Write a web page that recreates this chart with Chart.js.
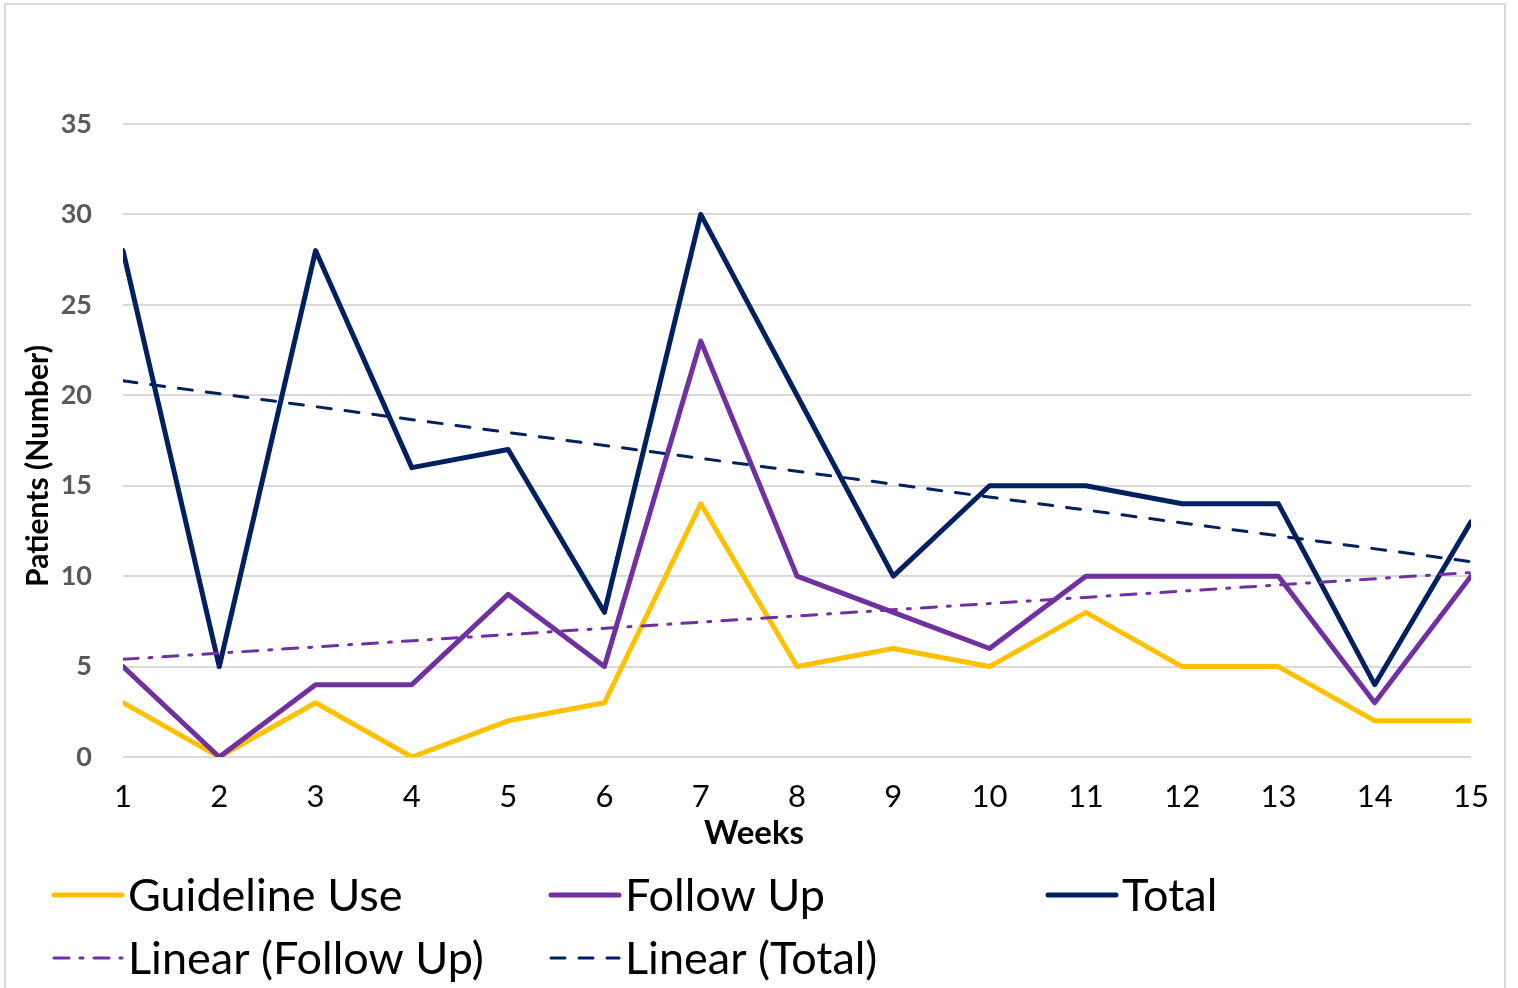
<!DOCTYPE html>
<html lang="en">
<head>
    <meta charset="UTF-8">
    <title>Patients per Week</title>
    <script src="https://cdn.jsdelivr.net/npm/chart.js"></script>
    <style>
        html, body { margin: 0; padding: 0; background: #fff; }
        .chart-box { position: relative; width: 1518px; height: 988px; overflow: hidden; }
        .frame {
            position: absolute; left: 4px; top: 3px; width: 1502px; height: 1000px;
            border: 2px solid #d9d9d9; box-sizing: border-box; pointer-events: none;
        }
        canvas { display: block; }
    </style>
</head>
<body>
    <div class="chart-box">
        <canvas id="chart" width="1518" height="988"></canvas>
        <div class="frame"></div>
    </div>

    <script>
        // weekly counts
        const weeks = [1, 2, 3, 4, 5, 6, 7, 8, 9, 10, 11, 12, 13, 14, 15];
        const guidelineUse = [3, 0, 3, 0, 2, 3, 14, 5, 6, 5, 8, 5, 5, 2, 2];
        const followUp = [5, 0, 4, 4, 9, 5, 23, 10, 8, 6, 10, 10, 10, 3, 10];
        const total = [28, 5, 28, 16, 17, 8, 30, 20, 10, 15, 15, 14, 14, 4, 13];

        // linear trend end points (week 1 and week 15)
        const trendWeeks = [1, 15];
        const followUpTrend = [5.4, 10.2];
        const totalTrend = [20.8, 10.8];

        const yTicks = [0, 5, 10, 15, 20, 25, 30, 35];

        const FONT = 'Lato, "Open Sans", sans-serif';

        const toPoints = (xs, ys) => xs.map((x, i) => ({ x: x, y: ys[i] }));

        // legend slots: [column, row]
        const legendSlots = [[0, 0], [1, 0], [2, 0], [0, 1], [1, 1]];
        const legendCols = [52, 549, 1046];
        const legendRows = [895, 958];

        const titlesAndLegend = {
            id: 'titlesAndLegend',
            afterDraw(chart) {
                const ctx = chart.ctx;
                ctx.save();
                // axis titles
                ctx.fillStyle = '#000';
                ctx.textAlign = 'center';
                ctx.textBaseline = 'middle';
                ctx.font = 'bold 33px ' + FONT;
                ctx.fillText('Weeks', 754, 833);
                ctx.translate(38, 466);
                ctx.rotate(-Math.PI / 2);
                ctx.font = 'bold 30px ' + FONT;
                ctx.fillText('Patients (Number)', 0, 0);
                ctx.restore();

                // legend
                ctx.save();
                chart.data.datasets.forEach((ds, i) => {
                    const slot = legendSlots[i];
                    const x = legendCols[slot[0]];
                    const y = legendRows[slot[1]];
                    ctx.strokeStyle = ds.borderColor;
                    ctx.lineWidth = ds.borderWidth;
                    ctx.lineCap = 'round';
                    ctx.setLineDash(ds.borderDash || []);
                    ctx.beginPath();
                    ctx.moveTo(x + 2, y);
                    ctx.lineTo(x + 70, y);
                    ctx.stroke();
                    ctx.setLineDash([]);
                    ctx.fillStyle = '#000';
                    ctx.font = '45px ' + FONT;
                    ctx.textAlign = 'left';
                    ctx.textBaseline = 'middle';
                    ctx.fillText(ds.label, x + 76, y + 1);
                });
                ctx.restore();
            }
        };

        new Chart(document.getElementById('chart'), {
            type: 'line',
            data: {
                datasets: [
                    {
                        label: 'Guideline Use',
                        data: toPoints(weeks, guidelineUse),
                        borderColor: '#FFC000',
                        borderWidth: 5,
                        order: 5
                    },
                    {
                        label: 'Follow Up',
                        data: toPoints(weeks, followUp),
                        borderColor: '#7030A0',
                        borderWidth: 5,
                        order: 4
                    },
                    {
                        label: 'Total',
                        data: toPoints(weeks, total),
                        borderColor: '#002060',
                        borderWidth: 5,
                        order: 3
                    },
                    {
                        label: 'Linear (Follow Up)',
                        data: toPoints(trendWeeks, followUpTrend),
                        borderColor: '#7030A0',
                        borderWidth: 3,
                        borderDash: [15, 11, 3, 11],
                        order: 2
                    },
                    {
                        label: 'Linear (Total)',
                        data: toPoints(trendWeeks, totalTrend),
                        borderColor: '#002060',
                        borderWidth: 3,
                        borderDash: [14, 14],
                        order: 1
                    }
                ]
            },
            options: {
                responsive: false,
                animation: false,
                layout: { padding: { left: 0, right: 47, top: 124, bottom: 141 } },
                elements: {
                    point: { radius: 0 },
                    line: { tension: 0, borderJoinStyle: 'round', borderCapStyle: 'round', fill: false }
                },
                plugins: {
                    legend: { display: false },
                    tooltip: { enabled: false }
                },
                scales: {
                    x: {
                        type: 'linear',
                        min: weeks[0],
                        max: weeks[weeks.length - 1],
                        afterBuildTicks: scale => { scale.ticks = weeks.map(v => ({ value: v })); },
                        grid: { display: false },
                        border: { display: false },
                        ticks: {
                            color: '#000',
                            font: { family: FONT, size: 31 },
                            padding: 13,
                            maxRotation: 0,
                            autoSkip: false
                        },
                        afterFit: scale => { scale.height = 90; }
                    },
                    y: {
                        min: yTicks[0],
                        max: yTicks[yTicks.length - 1],
                        afterBuildTicks: scale => { scale.ticks = yTicks.map(v => ({ value: v })); },
                        grid: { color: '#d9d9d9', lineWidth: 2, drawTicks: false },
                        border: { display: false },
                        ticks: {
                            color: '#595959',
                            font: { family: FONT, size: 27, weight: 'bold' },
                            padding: 31
                        },
                        afterFit: scale => { scale.width = 123; }
                    }
                }
            },
            plugins: [titlesAndLegend]
        });
    </script>
</body>
</html>
